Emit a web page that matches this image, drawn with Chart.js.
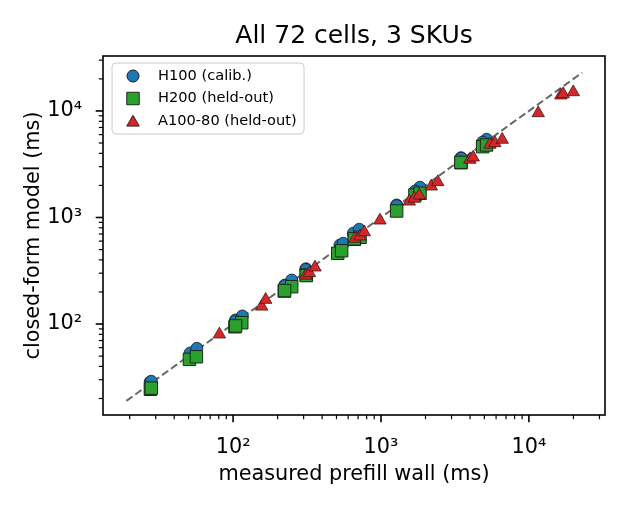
<!DOCTYPE html>
<html>
<head>
<meta charset="utf-8">
<script src="https://cdn.jsdelivr.net/npm/chart.js@4/dist/chart.umd.min.js"></script>
<style>
  html, body { margin: 0; padding: 0; background: #fff; }
  #wrap { width: 630px; height: 510px; }
</style>
</head>
<body>
<div id="wrap"><canvas id="myChart" width="630" height="510"></canvas></div>
<script>
// measured prefill wall (ms) vs closed-form model (ms)
var h100Measured = [27.5, 51.2, 56.9, 104, 115.5, 224, 249, 311, 528, 556, 650, 713,
                    1276, 1834, 3473, 5176, 1700, 4866, 28, 104, 224, 311, 3500, 1276];
var h100Model    = [28.5, 53.4, 59.1, 109, 119, 232, 259, 330, 552, 573, 711, 775,
                    1310, 1921, 3641, 5425, 1770, 5100, 29, 107, 229, 325, 3600, 1290];

var h200Measured = [27.6, 50.7, 56.5, 103, 114.5, 222, 249, 313, 510, 542, 661, 722,
                    1276, 1698, 1837, 3476, 4866, 5176, 28, 104, 223, 312, 660, 3470];
var h200Model    = [24.4, 46.6, 49.3, 94.3, 102.9, 204, 224, 288, 461, 488, 624, 652,
                    1151, 1626, 1688, 3271, 4623, 4796, 25, 96, 206, 285, 630, 3290];

var a100Measured = [80.8, 156, 166, 310, 328, 358, 667, 721, 771, 984, 1553, 1679,
                    1815, 2188, 2417, 3990, 4204, 5445, 5888, 6600, 11560, 16440, 17050, 19950];
var a100Model    = [80, 146, 169, 285, 301, 340, 632, 665, 728, 939, 1415, 1503,
                    1612, 1958, 2150, 3490, 3666, 4828, 4998, 5376, 9550, 14020, 14410, 15030];

var seriesNames = ["H100 (calib.)", "H200 (held-out)", "A100-80 (held-out)"];
var refLine = [19, 22900];           // y = x guide
var xRange = [13.2, 32700];
var yRange = [14.0, 32800];
var majorTicks = [100, 1000, 10000];

var FONT = "'DejaVu Sans', sans-serif";

function pts(xs, ys) {
  var out = [];
  for (var i = 0; i < xs.length; i++) out.push({x: xs[i], y: ys[i]});
  return out;
}

function logTicks(range) {
  var t = [];
  for (var e = -1; e < 6; e++) {
    for (var s = 1; s < 10; s++) {
      var v = s * Math.pow(10, e);
      if (v >= range[0] && v <= range[1]) t.push({value: v, major: s === 1});
    }
  }
  return t;
}

var sup = {"0":"\u2070","1":"\u00b9","2":"\u00b2","3":"\u00b3","4":"\u2074","5":"\u2075","6":"\u2076","7":"\u2077","8":"\u2078","9":"\u2079"};
function tickLabel(v) {
  var l = Math.log10(v);
  if (Math.abs(l - Math.round(l)) > 1e-9) return "";
  if (majorTicks.indexOf(Math.round(v)) < 0) return "";
  return "10" + String(Math.round(l)).split("").map(function(c){ return sup[c]; }).join("");
}

// ticks, spines and legend drawn the matplotlib way
var decor = {
  id: "decor",
  afterDatasetsDraw: function(chart) {
    var ctx = chart.ctx, a = chart.chartArea;
    var xs = chart.scales.x, ys = chart.scales.y;
    ctx.save();
    ctx.strokeStyle = "#000";
    xs.ticks.forEach(function(t) {
      var p = xs.getPixelForValue(t.value);
      ctx.lineWidth = t.major ? 1.6 : 1.2;
      ctx.beginPath();
      ctx.moveTo(p, a.bottom);
      ctx.lineTo(p, a.bottom + (t.major ? 7.3 : 4.2));
      ctx.stroke();
    });
    ys.ticks.forEach(function(t) {
      var p = ys.getPixelForValue(t.value);
      ctx.lineWidth = t.major ? 1.6 : 1.2;
      ctx.beginPath();
      ctx.moveTo(a.left, p);
      ctx.lineTo(a.left - (t.major ? 7.3 : 4.2), p);
      ctx.stroke();
    });
    ctx.lineWidth = 1.6;
    ctx.strokeRect(a.left, a.top, a.right - a.left, a.bottom - a.top);

    // legend box
    var bx = a.left + 9, by = a.top + 7, bw = 192, bh = 71;
    ctx.beginPath();
    ctx.roundRect(bx, by, bw, bh, 4);
    ctx.fillStyle = "rgba(255,255,255,0.85)";
    ctx.fill();
    ctx.strokeStyle = "#cccccc";
    ctx.lineWidth = 1;
    ctx.stroke();
    ctx.font = "14.6px " + FONT;
    ctx.textBaseline = "middle";
    ctx.textAlign = "left";
    var ds = chart.data.datasets;
    for (var i = 0; i < 3; i++) {
      var d = ds[i + 1];
      var yy = by + 13 + i * 22.5;
      ctx.fillStyle = d.backgroundColor;
      ctx.strokeStyle = d.borderColor;
      Chart.helpers.drawPoint(ctx, {pointStyle: d.pointStyle, radius: d.pointRadius, rotation: 0, borderWidth: d.borderWidth}, bx + 21, yy + (d.pointStyle === "triangle" ? 1.5 : 0));
      ctx.fillStyle = "#000";
      ctx.fillText(seriesNames[i], bx + 46, yy);
    }
    ctx.restore();
  }
};

new Chart("myChart", {
  type: "scatter",
  data: {
    datasets: [{
      type: "line",
      label: "y = x",
      data: pts(refLine, refLine),
      borderColor: "rgba(0,0,0,0.6)",
      borderWidth: 2,
      borderDash: [7.5, 3.5],
      pointRadius: 0,
      fill: false,
      order: 4
    }, {
      label: seriesNames[0],
      data: pts(h100Measured, h100Model),
      pointStyle: "circle",
      pointRadius: 6,
      backgroundColor: "#1f77b4",
      borderColor: "#1a1a1a",
      borderWidth: 0.8,
      order: 3
    }, {
      label: seriesNames[1],
      data: pts(h200Measured, h200Model),
      pointStyle: "rect",
      pointRadius: 8.8,
      backgroundColor: "#2ca02c",
      borderColor: "#1a2a1a",
      borderWidth: 1,
      order: 2
    }, {
      label: seriesNames[2],
      data: pts(a100Measured, a100Model),
      pointStyle: "triangle",
      pointRadius: 7.2,
      backgroundColor: "#d62728",
      borderColor: "#3a1a1a",
      borderWidth: 0.8,
      order: 1
    }]
  },
  options: {
    responsive: false,
    animation: false,
    events: [],
    layout: { padding: { left: 0, right: 25, top: 0, bottom: 0 } },
    plugins: {
      legend: { display: false },
      tooltip: { enabled: false },
      title: {
        display: true,
        fullSize: false,
        text: "All 72 cells, 3 SKUs",
        color: "#000",
        font: { family: FONT, size: 25, weight: "normal" },
        padding: { top: 21, bottom: 5 }
      }
    },
    scales: {
      x: {
        type: "logarithmic",
        position: "bottom",
        min: xRange[0],
        max: xRange[1],
        afterBuildTicks: function(s) { s.ticks = logTicks(xRange); },
        afterFit: function(s) { s.height = 95; },
        grid: { display: false },
        border: { display: false },
        ticks: {
          autoSkip: false, maxRotation: 0, padding: 12, color: "#000",
          font: { family: FONT, size: 20.8 },
          callback: function(v) { return tickLabel(v); }
        },
        title: {
          display: true, text: "measured prefill wall (ms)", color: "#000",
          font: { family: FONT, size: 20.8 }, padding: { top: 0, bottom: 23 }
        }
      },
      y: {
        type: "logarithmic",
        position: "left",
        min: yRange[0],
        max: yRange[1],
        afterBuildTicks: function(s) { s.ticks = logTicks(yRange); },
        afterFit: function(s) { s.width = 103; },
        grid: { display: false },
        border: { display: false },
        ticks: {
          autoSkip: false, padding: 13, color: "#000",
          font: { family: FONT, size: 20.8 },
          callback: function(v) { return tickLabel(v); }
        },
        title: {
          display: true, text: "closed-form model (ms)", color: "#000",
          font: { family: FONT, size: 20.8 }, padding: { top: 21, bottom: 0 }
        }
      }
    }
  },
  plugins: [decor]
});
</script>
</body>
</html>
